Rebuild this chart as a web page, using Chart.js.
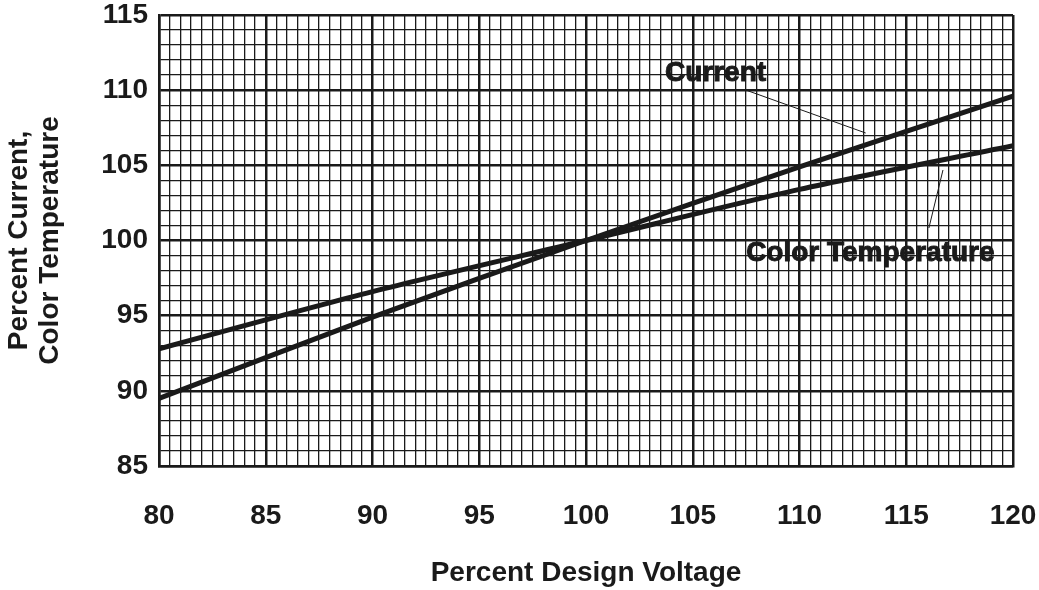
<html lang="en">
<head>
  <meta charset="UTF-8">
  <title>Percent Current, Color Temperature vs Voltage</title>
  <script src="https://cdn.jsdelivr.net/npm/chart.js"></script>
  <style>
    body { margin: 0; background: #fff; }
    #wrap { width: 1039px; height: 590px; }
  </style>
</head>
<body>
  <div id="wrap"><canvas id="chart" width="1039" height="590"></canvas></div>
  <script>
    // values
    const voltage = [80, 90, 100, 110, 120];
    const currentPct = [89.5, 94.9, 100, 104.9, 109.6];
    const colorTempPct = [92.8, 96.6, 100, 103.4, 106.3];
    const xTicks = [80, 85, 90, 95, 100, 105, 110, 115, 120];
    const yTicks = [85, 90, 95, 100, 105, 110, 115];

    const font = "'Liberation Sans', Arial, sans-serif";
    const ink = '#1a1a1a';

    // line labels with thin leader lines
    const labelsPlugin = {
      id: 'lineLabels',
      afterDatasetsDraw(chart) {
        const { ctx, scales: { x, y } } = chart;
        ctx.save();
        ctx.strokeStyle = ink;
        ctx.lineWidth = 1;
        ctx.beginPath();
        ctx.moveTo(x.getPixelForValue(107.5), y.getPixelForValue(110.0));
        ctx.lineTo(x.getPixelForValue(113.1), y.getPixelForValue(107.15));
        ctx.moveTo(x.getPixelForValue(116.06), y.getPixelForValue(100.83));
        ctx.lineTo(x.getPixelForValue(116.72), y.getPixelForValue(104.69));
        ctx.stroke();

        ctx.font = `bold 28px ${font}`;
        ctx.fillStyle = ink;
        ctx.textBaseline = 'middle';
        ctx.textAlign = 'left';
        ctx.lineWidth = 1;
        const t1 = [x.getPixelForValue(103.7), y.getPixelForValue(111.14)];
        const t2 = [x.getPixelForValue(107.5), y.getPixelForValue(99.17)];
        ctx.fillText('Current', t1[0], t1[1]);
        ctx.strokeText('Current', t1[0], t1[1]);
        ctx.fillText('Color Temperature', t2[0], t2[1]);
        ctx.strokeText('Color Temperature', t2[0], t2[1]);
        ctx.restore();
      }
    };

    new Chart(document.getElementById('chart'), {
      type: 'line',
      data: {
        datasets: [
          {
            label: 'Current',
            data: voltage.map((v, i) => ({ x: v, y: currentPct[i] })),
            borderColor: ink,
            borderWidth: 5,
            pointRadius: 0,
            tension: 0.3
          },
          {
            label: 'Color Temperature',
            data: voltage.map((v, i) => ({ x: v, y: colorTempPct[i] })),
            borderColor: ink,
            borderWidth: 5,
            pointRadius: 0,
            tension: 0.3
          }
        ]
      },
      options: {
        responsive: false,
        animation: false,
        layout: { padding: { top: 15, right: 26, left: 0, bottom: 0 } },
        plugins: {
          legend: { display: false },
          tooltip: { enabled: false }
        },
        scales: {
          x: {
            type: 'linear',
            min: 80,
            max: 120,
            afterBuildTicks(scale) {
              const t = [];
              for (let v = 80; v <= 120.001; v += 0.5) t.push({ value: v });
              scale.ticks = t;
            },
            afterFit(scale) {
              scale.height = 124;
              scale.paddingRight = 0;
              scale.paddingLeft = 0;
            },
            grid: {
              color: ink,
              lineWidth: c => xTicks.includes(c.tick.value) ? 2.5 : 1.3,
              drawTicks: false
            },
            border: { color: ink, width: 2.5 },
            ticks: {
              autoSkip: false,
              maxRotation: 0,
              padding: 33,
              color: ink,
              font: { family: font, size: 28, weight: 'bold' },
              callback: v => xTicks.includes(v) ? v : ''
            },
            title: {
              display: true,
              text: 'Percent Design Voltage',
              color: ink,
              font: { family: font, size: 28, weight: 'bold' },
              padding: { top: 0, bottom: 0 }
            }
          },
          y: {
            min: 85,
            max: 115,
            afterBuildTicks(scale) {
              const t = [];
              for (let v = 85; v <= 115; v += 1) t.push({ value: v });
              scale.ticks = t;
            },
            afterFit(scale) {
              scale.width = 159;
              scale.paddingTop = 0;
              scale.paddingBottom = 0;
            },
            grid: {
              color: ink,
              lineWidth: c => yTicks.includes(c.tick.value) ? 2.5 : 1.3,
              drawTicks: false
            },
            border: { color: ink, width: 2.5 },
            ticks: {
              autoSkip: false,
              padding: 11,
              color: ink,
              font: { family: font, size: 28, weight: 'bold' },
              callback: v => yTicks.includes(v) ? v : ''
            },
            title: {
              display: true,
              text: ['Percent Current,', 'Color Temperature'],
              color: ink,
              font: { family: font, size: 28, weight: 'bold', lineHeight: 1.1 },
              padding: { top: 4, bottom: 0 }
            }
          }
        }
      },
      plugins: [labelsPlugin]
    });
  </script>
</body>
</html>
